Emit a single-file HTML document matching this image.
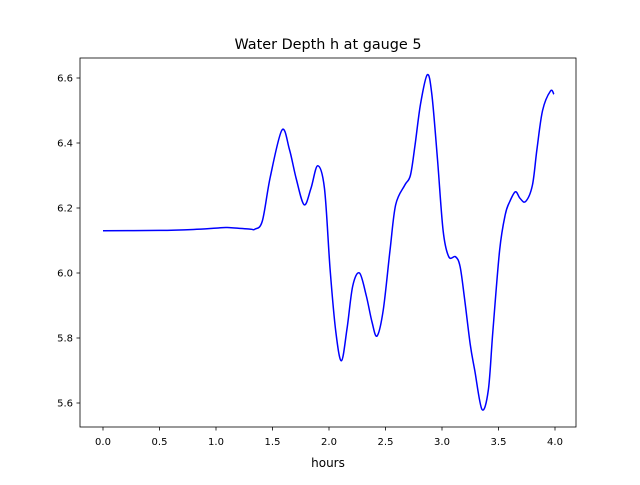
<!DOCTYPE html>
<html><head><meta charset="utf-8"><style>
body{margin:0;background:#fff}
svg text{font-family:"DejaVu Sans","Liberation Sans",sans-serif;fill:#000}
</style></head><body>
<svg id="chart" width="640" height="480" viewBox="0 0 640 480" xmlns="http://www.w3.org/2000/svg">
<rect width="640" height="480" fill="#fff"/>
<text x="328" y="49" font-size="14.4" text-anchor="middle">Water Depth h at gauge 5</text>
<g id="xticks"></g>
<g id="yticks"></g>
<path id="line" fill="none" stroke="#0000ff" stroke-width="1.5"/>
<rect x="80" y="58" width="496" height="369" fill="none" stroke="#000" stroke-width="0.8"/>
<text x="328" y="467" font-size="12" text-anchor="middle">hours</text>
</svg>
<script>
const hours=[0,0.5,0.8,1.0,1.1,1.3,1.345,1.41,1.48,1.584,1.65,1.71,1.78,1.84,1.90,1.96,2.01,2.06,2.11,2.16,2.21,2.27,2.33,2.38,2.425,2.48,2.54,2.59,2.67,2.72,2.76,2.81,2.87,2.91,2.96,3.01,3.06,3.12,3.16,3.20,3.25,3.29,3.354,3.41,3.45,3.51,3.56,3.60,3.65,3.69,3.74,3.80,3.84,3.89,3.96,3.99];
const depth=[6.13,6.131,6.134,6.138,6.14,6.135,6.135,6.16,6.295,6.44,6.38,6.29,6.21,6.26,6.33,6.26,6.01,5.82,5.73,5.83,5.96,6.0,5.93,5.85,5.806,5.886,6.07,6.21,6.27,6.30,6.39,6.52,6.61,6.55,6.35,6.13,6.05,6.05,6.02,5.92,5.78,5.70,5.58,5.64,5.82,6.07,6.18,6.22,6.25,6.23,6.22,6.27,6.38,6.50,6.56,6.55];
const xTicks=[0,0.5,1.0,1.5,2.0,2.5,3.0,3.5,4.0];
const yTicks=[5.6,5.8,6.0,6.2,6.4,6.6];
const X=v=>103+v*113;
const Y=v=>78+(6.6-v)*325;
const NS='http://www.w3.org/2000/svg';
const xg=document.getElementById('xticks'),yg=document.getElementById('yticks');
xTicks.forEach(t=>{
 const l=document.createElementNS(NS,'line');
 
 
 l.setAttribute('x1',X(t));l.setAttribute('x2',X(t));l.setAttribute('y1',427);l.setAttribute('y2',430.5);l.setAttribute('stroke','#000');l.setAttribute('stroke-width','0.8');
 xg.appendChild(l);
 const tx=document.createElementNS(NS,'text');
 
 
 tx.setAttribute('x',X(t));tx.setAttribute('y',445);tx.setAttribute('font-size','10');tx.setAttribute('text-anchor','middle');
 tx.textContent=t.toFixed(1);xg.appendChild(tx);
});
yTicks.forEach(t=>{
 const l=document.createElementNS(NS,'line');
 
 
 l.setAttribute('x1',76.5);l.setAttribute('x2',80);l.setAttribute('y1',Y(t));l.setAttribute('y2',Y(t));l.setAttribute('stroke','#000');l.setAttribute('stroke-width','0.8');
 yg.appendChild(l);
 const tx=document.createElementNS(NS,'text');
 
 
 tx.setAttribute('x',73);tx.setAttribute('y',Y(t)+3.5);tx.setAttribute('font-size','10');tx.setAttribute('text-anchor','end');
 tx.textContent=t.toFixed(1);yg.appendChild(tx);
});
const pts=hours.map((h,i)=>[X(h),Y(depth[i])]);
let d='M'+pts[0][0]+','+pts[0][1];
for(let i=0;i<pts.length-1;i++){
 const p0=pts[Math.max(0,i-1)],p1=pts[i],p2=pts[i+1],p3=pts[Math.min(pts.length-1,i+2)];
 const c1=[p1[0]+(p2[0]-p0[0])/6,p1[1]+(p2[1]-p0[1])/6];
 const c2=[p2[0]-(p3[0]-p1[0])/6,p2[1]-(p3[1]-p1[1])/6];
 d+=' C'+c1[0]+','+c1[1]+' '+c2[0]+','+c2[1]+' '+p2[0]+','+p2[1];
}
document.getElementById('line').setAttribute('d',d);
</script>
</body></html>
